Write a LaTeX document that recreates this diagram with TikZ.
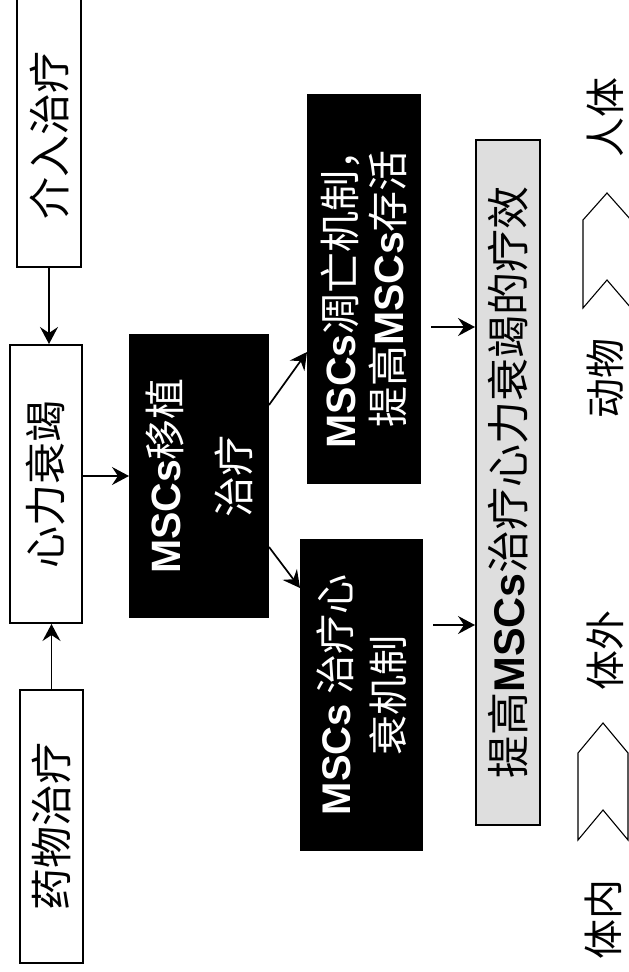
\documentclass[tikz,border=0pt]{standalone}
\usepackage{fontspec}
\setmainfont{Noto Sans CJK SC}
\newfontfamily\lat{Liberation Sans}
\usetikzlibrary{arrows.meta,calc}
\begin{document}
\begin{tikzpicture}[x=1pt,y=-1pt,
  box/.style={draw=black, line width=2pt, rotate=90, inner sep=0pt, align=center, font=\fontsize{42}{50}\selectfont},
  wbox/.style={box, fill=white},
  bbox/.style={box, fill=black, text=white},
  gbox/.style={box, fill=black!13},
  arr/.style={line width=1.7pt, -{Stealth[length=17pt,width=18pt,inset=6pt]}},
  lbl/.style={rotate=90, inner sep=0pt, font=\fontsize{40}{48}\selectfont},
  chev/.style={draw=black, line width=1.1pt, fill=white}
]
\useasboundingbox (0,0) rectangle (629,972);
\clip (0,0) rectangle (629,972);

% left column
\node[wbox, minimum width=300pt, minimum height=64pt] (jieru) at (49,117) {介入治疗\hspace{36pt}};
\node[wbox, minimum width=278pt, minimum height=72pt] (xinli) at (46,484) {心力衰竭};
\node[wbox, minimum width=273pt, minimum height=63pt] (yaowu) at (51.5,826.5) {药物治疗};

% black boxes
\node[bbox, minimum width=282pt, minimum height=138pt, font=\fontsize{41}{69}\selectfont] (yizhi) at (199,476) {{\lat\bfseries MSCs}移植\\治疗};
\node[bbox, minimum width=388pt, minimum height=112pt, font=\fontsize{41}{48}\selectfont] (diaowang) at (364,289) {{\lat\bfseries MSCs}凋亡机制，\\提高{\lat\bfseries MSCs}存活};
\node[bbox, minimum width=310pt, minimum height=121pt, font=\fontsize{40}{53}\selectfont] (jizhi) at (361.5,695) {{\lat\bfseries MSCs} 治疗心\\衰机制};

% gray box
\node[gbox, minimum width=685pt, minimum height=64pt, font=\fontsize{43}{50}\selectfont] (liaoxiao) at (508,482.5) {提高{\lat\bfseries MSCs}治疗心力衰竭的疗效};

% bottom labels
\node[lbl] (tinei) at (603,919) {体内};
\node[lbl] (tiwai) at (605,650) {体外};
\node[lbl] (dongwu) at (605,378) {动物};
\node[lbl] (renti) at (605,117) {人体};

% chevrons
\draw[chev] (578,840) -- (578,753) -- (603,723) -- (628,753) -- (628,840) -- (603,810) -- cycle;
\draw[chev] (583,308) -- (583,220) -- (607,193) -- (631,220) -- (631,308) -- (607,280) -- cycle;

% connectors
\draw[arr] (yaowu.east) -- (yaowu.east |- xinli.west);
\draw[arr] (jieru.west) -- (jieru.west |- xinli.east);
\draw[arr] (xinli.south |- yizhi.north) -- (yizhi.north);
\coordinate (s1) at ($(yizhi.south)+(0,-71)$);
\coordinate (e1) at ($(diaowang.north)+(0,63)$);
\coordinate (s2) at ($(yizhi.south)+(0,71)$);
\coordinate (e2) at ($(jizhi.north)+(0,-107)$);
\draw[arr] (s1) -- (e1);
\draw[arr] (s2) -- (e2);
\coordinate (a1) at ($(diaowang.south)+(10,38)$);
\coordinate (a2) at ($(jizhi.south)+(10,-70)$);
\draw[arr] (a1) -- (a1 -| liaoxiao.north);
\draw[arr] (a2) -- (a2 -| liaoxiao.north);
\end{tikzpicture}
\end{document}
